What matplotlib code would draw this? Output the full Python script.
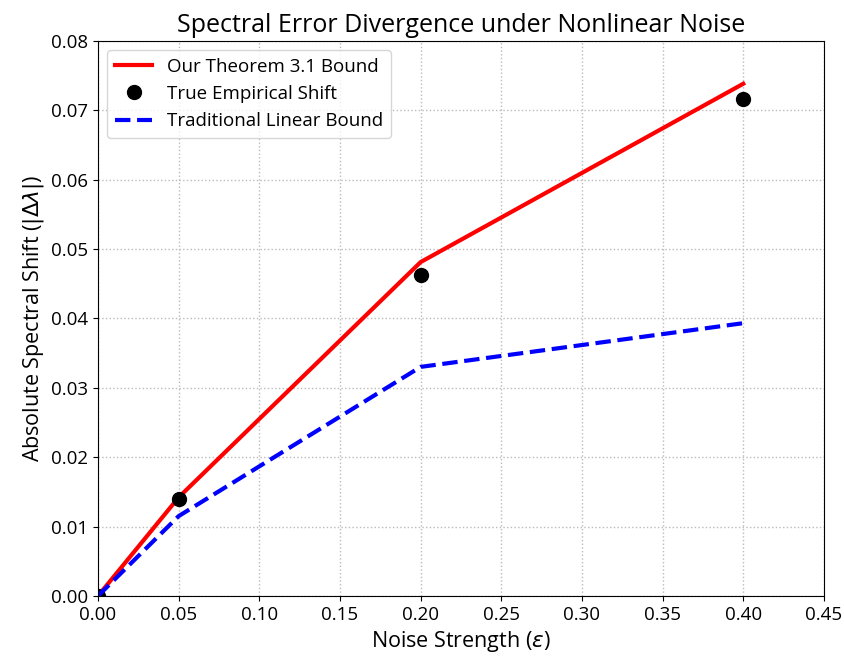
import matplotlib
matplotlib.use("Agg")
import matplotlib.pyplot as plt

plt.rcParams['font.family'] = ['Open Sans', 'DejaVu Sans']

eps = [0.0, 0.05, 0.20, 0.40]
theorem_bound = [0.0, 0.0142, 0.0481, 0.0738]
empirical_shift = [0.0, 0.0139, 0.0463, 0.0716]
linear_bound = [0.0, 0.0115, 0.0330, 0.0393]

fig = plt.figure(figsize=(8.45, 6.57), dpi=100)
ax = fig.add_axes([0.116, 0.093, 0.859, 0.845])

ax.plot(eps, theorem_bound, color='red', lw=3, label='Our Theorem 3.1 Bound')
ax.plot(eps, empirical_shift, 'o', color='black', ms=10, label='True Empirical Shift')
ax.plot(eps, linear_bound, '--', color='blue', lw=3, label='Traditional Linear Bound')

ax.set_xlim(0, 0.45)
ax.set_ylim(0, 0.08)
ax.set_xticks([0.0, 0.05, 0.10, 0.15, 0.20, 0.25, 0.30, 0.35, 0.40, 0.45])
ax.set_xticklabels(['0.00', '0.05', '0.10', '0.15', '0.20', '0.25', '0.30', '0.35', '0.40', '0.45'])
ax.set_yticks([0.0, 0.01, 0.02, 0.03, 0.04, 0.05, 0.06, 0.07, 0.08])
ax.set_yticklabels(['0.00', '0.01', '0.02', '0.03', '0.04', '0.05', '0.06', '0.07', '0.08'])
ax.tick_params(labelsize=13.5)
ax.grid(True, linestyle=':', color='#bbbbbb', lw=1)

ax.set_xlabel(r'Noise Strength ($\epsilon$)', fontsize=15.5)
ax.set_ylabel(r'Absolute Spectral Shift ($|\Delta\lambda|$)', fontsize=15.5)
ax.set_title('Spectral Error Divergence under Nonlinear Noise', fontsize=18)
ax.legend(loc='upper left', fontsize=13.5)

fig.savefig('out.png', dpi=100)
